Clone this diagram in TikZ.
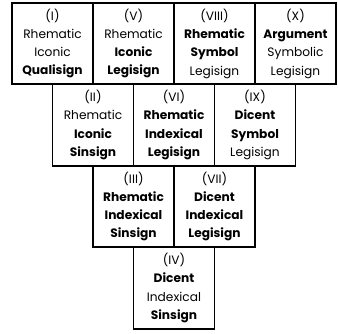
\documentclass[tikz,border=0pt]{standalone}
\usepackage{fontspec}
\setmainfont{Poppins}
\tikzset{
  sign/.style={draw, line width=1.7pt, minimum width=81pt, minimum height=81.5pt,
    inner sep=0pt, align=center, font=\fontsize{12.2}{18.3}\selectfont}
}
\begin{document}
\begin{tikzpicture}[x=1pt,y=-1pt]
  \useasboundingbox (0,0) rectangle (338,333);
  % first row
  \node[sign] (s1)  at ( 52.5, 43.5) {(I)\\Rhematic\\Iconic\\\textbf{Qualisign}};
  \node[sign] (s5)  at (133.5, 43.5) {(V)\\Rhematic\\\textbf{Iconic}\\\textbf{Legisign}};
  \node[sign] (s8)  at (214.5, 43.5) {(VIII)\\\textbf{Rhematic}\\\textbf{Symbol}\\Legisign};
  \node[sign] (s10) at (295.5, 43.5) {(X)\\\textbf{Argument}\\Symbolic\\Legisign};
  % second row
  \node[sign] (s2)  at ( 93.0,125.0) {(II)\\Rhematic\\\textbf{Iconic}\\\textbf{Sinsign}};
  \node[sign] (s6)  at (174.0,125.0) {(VI)\\\textbf{Rhematic}\\\textbf{Indexical}\\\textbf{Legisign}};
  \node[sign] (s9)  at (255.0,125.0) {(IX)\\\textbf{Dicent}\\\textbf{Symbol}\\Legisign};
  % third row
  \node[sign] (s3)  at (133.5,206.5) {(III)\\\textbf{Rhematic}\\\textbf{Indexical}\\\textbf{Sinsign}};
  \node[sign] (s7)  at (214.5,206.5) {(VII)\\\textbf{Dicent}\\\textbf{Indexical}\\\textbf{Legisign}};
  % last row
  \node[sign] (s4)  at (174.0,288.0) {(IV)\\\textbf{Dicent}\\Indexical\\\textbf{Sinsign}};
\end{tikzpicture}
\end{document}
